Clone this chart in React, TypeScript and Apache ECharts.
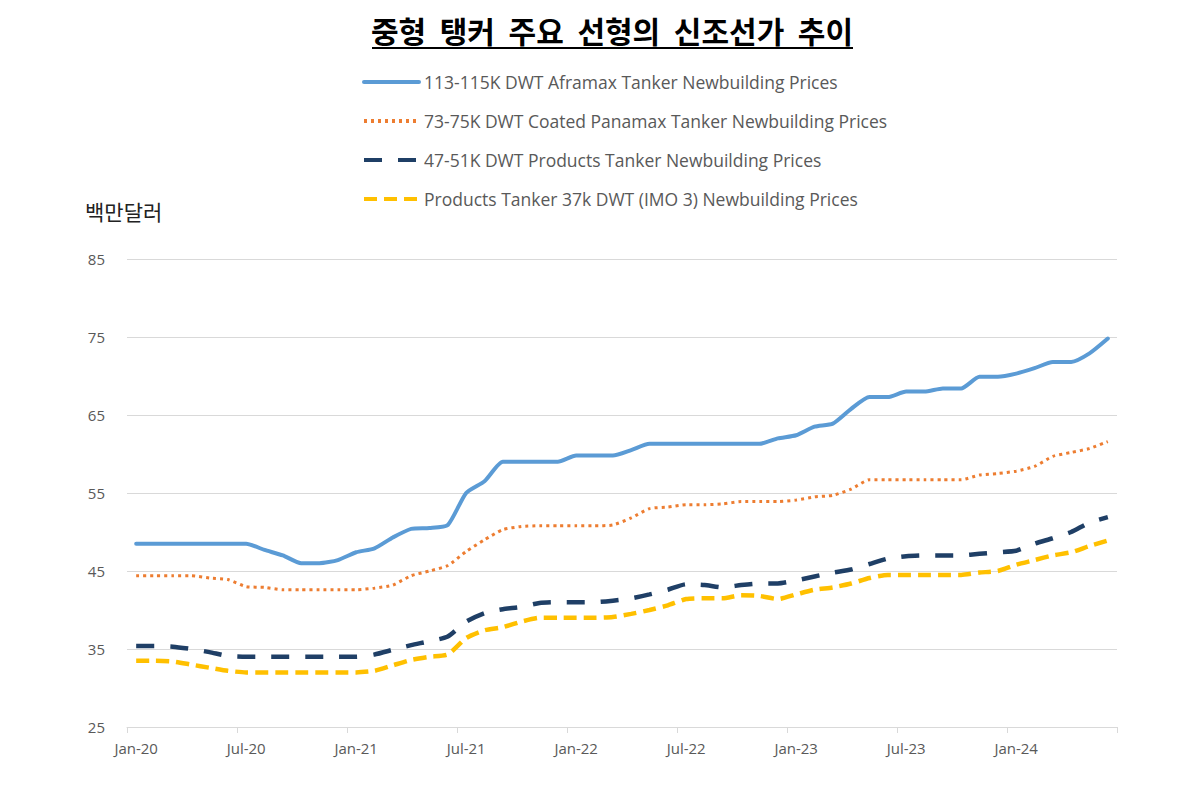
import React, { useEffect, useRef } from "react";
import * as echarts from "echarts";

const months = [
  "Jan-20","Feb-20","Mar-20","Apr-20","May-20","Jun-20","Jul-20","Aug-20","Sep-20","Oct-20","Nov-20","Dec-20",
  "Jan-21","Feb-21","Mar-21","Apr-21","May-21","Jun-21","Jul-21","Aug-21","Sep-21","Oct-21","Nov-21","Dec-21",
  "Jan-22","Feb-22","Mar-22","Apr-22","May-22","Jun-22","Jul-22","Aug-22","Sep-22","Oct-22","Nov-22","Dec-22",
  "Jan-23","Feb-23","Mar-23","Apr-23","May-23","Jun-23","Jul-23","Aug-23","Sep-23","Oct-23","Nov-23","Dec-23",
  "Jan-24","Feb-24","Mar-24","Apr-24","May-24","Jun-24",
];

const aframax = [
  48.5, 48.5, 48.5, 48.5, 48.5, 48.5, 48.5, 47.7, 47.0, 46.0, 46.0, 46.4,
  47.4, 47.9, 49.3, 50.4, 50.5, 50.9, 55.0, 56.5, 59.0, 59.0, 59.0, 59.0,
  59.8, 59.8, 59.8, 60.5, 61.3, 61.3, 61.3, 61.3, 61.3, 61.3, 61.3, 62.0,
  62.4, 63.5, 63.9, 65.8, 67.3, 67.3, 68.0, 68.0, 68.4, 68.4, 69.9, 69.9,
  70.3, 71.0, 71.8, 71.8, 72.9, 74.8,
];

const panamax = [
  44.4, 44.4, 44.4, 44.4, 44.1, 43.9, 43.0, 42.9, 42.6, 42.6, 42.6, 42.6,
  42.6, 42.8, 43.2, 44.4, 45.0, 45.7, 47.5, 49.0, 50.3, 50.7, 50.8, 50.8,
  50.8, 50.8, 50.9, 51.8, 53.0, 53.2, 53.5, 53.5, 53.6, 53.9, 53.9, 53.9,
  54.1, 54.5, 54.7, 55.5, 56.7, 56.7, 56.7, 56.7, 56.7, 56.7, 57.3, 57.5,
  57.8, 58.4, 59.7, 60.2, 60.7, 61.6,
];

const products4751 = [
  35.4, 35.4, 35.3, 35.0, 34.6, 34.1, 34.0, 34.0, 34.0, 34.0, 34.0, 34.0,
  34.0, 34.3, 34.9, 35.5, 36.0, 36.6, 38.5, 39.6, 40.1, 40.4, 40.9, 41.0,
  41.0, 41.0, 41.2, 41.5, 42.0, 42.6, 43.3, 43.2, 42.9, 43.2, 43.4, 43.4,
  43.8, 44.3, 44.8, 45.2, 45.9, 46.6, 46.9, 47.0, 47.0, 47.0, 47.2, 47.4,
  47.6, 48.5, 49.2, 50.0, 51.2, 51.9,
];

const products37 = [
  33.5, 33.5, 33.4, 33.0, 32.6, 32.2, 32.0, 32.0, 32.0, 32.0, 32.0, 32.0,
  32.0, 32.2, 32.9, 33.6, 34.0, 34.3, 36.4, 37.4, 37.8, 38.5, 39.0, 39.0,
  39.0, 39.0, 39.1, 39.5, 40.0, 40.6, 41.4, 41.5, 41.5, 41.9, 41.8, 41.4,
  42.0, 42.6, 42.9, 43.4, 44.1, 44.5, 44.5, 44.5, 44.5, 44.5, 44.8, 45.0,
  45.8, 46.4, 47.0, 47.4, 48.2, 48.9,
];

const seriesNames = [
  "113-115K DWT Aframax Tanker Newbuilding Prices",
  "73-75K DWT Coated Panamax Tanker Newbuilding Prices",
  "47-51K DWT Products Tanker Newbuilding Prices",
  "Products Tanker 37k DWT (IMO 3) Newbuilding Prices",
];

const titleText = "중형  탱커  주요  선형의  신조선가  추이";
const yUnit = "백만달러";

export default function App() {
  const ref = useRef<HTMLDivElement>(null);

  useEffect(() => {
    if (!ref.current) return;
    const chart = echarts.init(ref.current, null, { renderer: "svg" });
    const font = "'Open Sans', 'Noto Sans', sans-serif";
    const mk = (name: string, data: number[], color: string, width: number, type: any, cap: any) => ({
      name,
      type: "line",
      data,
      symbol: "none",
      showSymbol: false,
      smooth: 0.2,
      lineStyle: { color, width, type, cap },
      itemStyle: { color },
    });
    chart.setOption({
      animation: false,
      textStyle: { fontFamily: font },
      graphic: [
        {
          type: "text",
          x: 604,
          y: 22,
          style: {
            text: titleText,
            fontFamily: "'Noto Sans CJK KR', sans-serif",
            fontWeight: "bold",
            fontSize: 30,
            lineHeight: 34,
            fill: "#000",
            align: "center",
            verticalAlign: "middle",
          },
        },
        {
          type: "line",
          shape: { x1: 364, y1: 40, x2: 845, y2: 40 },
          style: { stroke: "#000", lineWidth: 2 },
        },
        {
          type: "text",
          x: 77,
          y: 203,
          style: {
            text: yUnit,
            fontFamily: "'Noto Sans CJK KR', sans-serif",
            fontSize: 21,
            fill: "#222",
            verticalAlign: "middle",
          },
        },
      ],
      legend: {
        orient: "vertical",
        left: 349,
        top: 60,
        itemWidth: 55,
        itemHeight: 14,
        itemGap: 21,
        itemStyle: { opacity: 0 },
        lineStyle: { width: 4 },
        textStyle: { fontSize: 17.5, color: "#595959", fontFamily: font },
        data: seriesNames,
      },
      grid: { left: 119, right: 52, top: 251, bottom: 60, containLabel: false },
      xAxis: {
        type: "category",
        data: months,
        boundaryGap: true,
        axisLine: { lineStyle: { color: "#D9D9D9", width: 1 } },
        axisTick: { show: true, interval: 5, length: 6, lineStyle: { color: "#D9D9D9" } },
        axisLabel: { interval: 5, color: "#595959", fontSize: 15, margin: 13, fontFamily: font },
        splitLine: { show: false },
      },
      yAxis: {
        type: "value",
        min: 25,
        max: 85,
        interval: 10,
        axisLine: { show: false },
        axisTick: { show: false },
        axisLabel: { color: "#595959", fontSize: 15, margin: 22, fontFamily: font },
        splitLine: { lineStyle: { color: "#D9D9D9", width: 1 } },
      },
      series: [
        mk(seriesNames[0], aframax, "#5B9BD5", 4, "solid", "round"),
        mk(seriesNames[1], panamax, "#ED7D31", 3, [3, 4], "butt"),
        mk(seriesNames[2], products4751, "#1F3F66", 4.5, [18, 16], "butt"),
        mk(seriesNames[3], products37, "#FFC000", 4.5, [13, 7], "butt"),
      ],
    });
    return () => chart.dispose();
  }, []);

  return <div ref={ref} style={{ width: 1161, height: 779 }} />;
}
